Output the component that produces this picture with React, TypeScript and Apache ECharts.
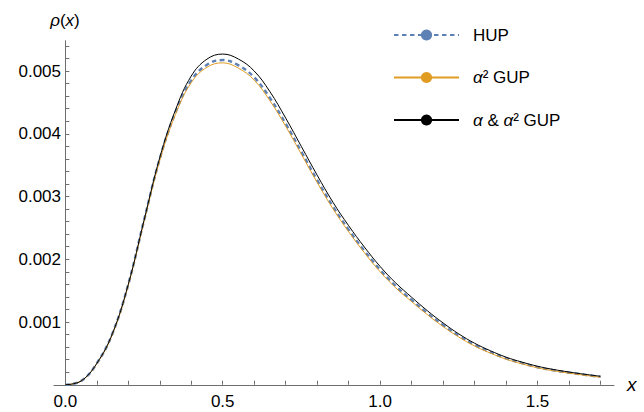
import React, { useEffect, useRef, useState } from "react";
import * as echarts from "echarts";

// x positions of sampled points
const xs = [
  0, 0.05, 0.1, 0.15, 0.2, 0.25, 0.3, 0.35, 0.4, 0.45, 0.5, 0.55, 0.6, 0.65, 0.7,
  0.75, 0.8, 0.85, 0.9, 0.95, 1.0, 1.05, 1.1, 1.15, 1.2, 1.25, 1.3, 1.35, 1.4,
  1.45, 1.5, 1.55, 1.6, 1.65, 1.7,
];
// values in units of 10^-3
const hup = [
  0, 0.06, 0.34, 0.82, 1.6, 2.62, 3.6, 4.34, 4.85, 5.1, 5.175, 5.09, 4.9, 4.57,
  4.16, 3.71, 3.26, 2.84, 2.47, 2.135, 1.83, 1.57, 1.35, 1.14, 0.95, 0.78, 0.635,
  0.52, 0.42, 0.345, 0.28, 0.232, 0.193, 0.158, 0.127,
];
const alpha2Gup = [
  0, 0.06, 0.335, 0.81, 1.585, 2.6, 3.575, 4.31, 4.815, 5.06, 5.13, 5.045, 4.855,
  4.525, 4.12, 3.672, 3.224, 2.806, 2.438, 2.105, 1.8, 1.543, 1.325, 1.117, 0.928,
  0.76, 0.618, 0.505, 0.408, 0.334, 0.27, 0.223, 0.185, 0.151, 0.119,
];
const alphaAlpha2Gup = [
  0, 0.06, 0.34, 0.82, 1.6, 2.62, 3.62, 4.38, 4.92, 5.19, 5.27, 5.19, 5.0, 4.67,
  4.25, 3.795, 3.34, 2.91, 2.535, 2.195, 1.885, 1.62, 1.395, 1.18, 0.985, 0.81,
  0.662, 0.543, 0.44, 0.362, 0.295, 0.244, 0.203, 0.167, 0.135,
];
const UNIT = 0.001;
const seriesNames = ["HUP", "α² GUP", "α & α² GUP"];

const xTicks = [0, 0.1, 0.2, 0.3, 0.4, 0.5, 0.6, 0.7, 0.8, 0.9, 1.0, 1.1, 1.2, 1.3, 1.4, 1.5, 1.6, 1.7];
const xLabels = [0, 0.5, 1.0, 1.5];
const yTicks = [
  0.0002, 0.0004, 0.0006, 0.0008, 0.001, 0.0012, 0.0014, 0.0016, 0.0018, 0.002,
  0.0022, 0.0024, 0.0026, 0.0028, 0.003, 0.0032, 0.0034, 0.0036, 0.0038, 0.004,
  0.0042, 0.0044, 0.0046, 0.0048, 0.005, 0.0052, 0.0054,
];
const yLabels = [0.001, 0.002, 0.003, 0.004, 0.005];

const X_MIN = -0.036;
const X_MAX = 1.743;
const Y_MIN = 0;
const Y_MAX = 0.005483;

const FONT = "'Liberation Sans', Arial, sans-serif";
const AXIS_COLOR = "#6e6e6e";
const C_HUP = "#5E81B5";
const C_A2 = "#E19C24";
const C_AA2 = "#000000";

const toPairs = (vals: number[]) => xs.map((x, i) => [x, vals[i] * UNIT]);
const italicRich = { i: { fontStyle: "italic", fontSize: 17, fontFamily: FONT, color: "#000" } };

export default function App() {
  const ref = useRef<HTMLDivElement>(null);
  const [msg, setMsg] = useState("");
  useEffect(() => {
    const logs: string[] = [];
    const ow = console.warn, oe = console.error;
    console.warn = (...a: any[]) => { logs.push("W:" + a.join(" ").slice(0, 160)); };
    console.error = (...a: any[]) => { logs.push("E:" + a.join(" ").slice(0, 160)); };
    const chart = echarts.init(ref.current!, null, { renderer: "svg" });
    const ls = () => ({ color: AXIS_COLOR, width: 1 });
    const option: any = {
      animation: false,
      title: [
        {
          text: "{i|ρ}({i|x})",
          left: 65,
          top: 12,
          textAlign: "center",
          padding: 0,
          textStyle: { fontSize: 17, fontFamily: FONT, color: "#000", fontWeight: "normal", rich: italicRich },
        },
        {
          text: "{i|x}",
          left: 627,
          top: 375,
          padding: 0,
          textStyle: {
            fontSize: 19,
            fontFamily: FONT,
            color: "#000",
            fontWeight: "normal",
            rich: { i: { fontStyle: "italic", fontSize: 19, fontFamily: FONT, color: "#000" } },
          },
        },
      ],
      legend: {
        orient: "vertical",
        left: 393,
        top: 25,
        padding: 0,
        itemWidth: 65,
        itemHeight: 14,
        itemGap: 22.5,
        selectedMode: false,
        data: seriesNames,
        formatter: (name: string) => name.replace(/α/g, "{i|α}"),
        textStyle: { fontSize: 17, fontFamily: FONT, color: "#000", padding: [0, 0, 0, 9], lineHeight: 20, rich: italicRich },
      },
      grid: { left: 54, right: 30, top: 40.7, bottom: 27.25 },
      xAxis: {
        type: "value",
        min: X_MIN,
        max: X_MAX,
        axisLine: { show: true, onZero: false, lineStyle: ls() },
        splitLine: { show: false },
        axisTick: { show: true, inside: true, length: 4, customValues: xTicks, lineStyle: ls() },
        axisLabel: {
          customValues: xLabels,
          formatter: (v: number) => v.toFixed(1),
          fontSize: 17,
          fontFamily: FONT,
          color: "#000",
        },
      },
      yAxis: {
        type: "value",
        min: Y_MIN,
        max: Y_MAX,
        axisLine: { show: true, onZero: true, lineStyle: ls() },
        splitLine: { show: false },
        axisTick: { show: true, inside: true, length: 4, customValues: yTicks, lineStyle: ls() },
        axisLabel: {
          customValues: yLabels,
          formatter: (v: number) => v.toFixed(3),
          fontSize: 17,
          fontFamily: FONT,
          color: "#000",
          margin: -7,
        },
      },
      series: [
        {
          name: seriesNames[0],
          type: "line",
          data: toPairs(hup),
          symbol: "none",
          smooth: 0.4,
          lineStyle: { color: C_HUP, width: 2.5, type: [4.5, 3.5] },
          itemStyle: { color: C_HUP },
        },
        {
          name: seriesNames[1],
          type: "line",
          data: toPairs(alpha2Gup),
          symbol: "none",
          smooth: 0.4,
          lineStyle: { color: C_A2, width: 1 },
          itemStyle: { color: C_A2 },
        },
        {
          name: seriesNames[2],
          type: "line",
          data: toPairs(alphaAlpha2Gup),
          symbol: "none",
          smooth: 0.4,
          lineStyle: { color: C_AA2, width: 1 },
          itemStyle: { color: C_AA2 },
        },
      ],
    };
    try {
      chart.setOption(option);
    } catch (e: any) {
      logs.push("X:" + String(e && e.stack ? e.stack : e).slice(0, 400));
    }
    console.warn = ow;
    console.error = oe;
    const t = setTimeout(() => {
      const svg = ref.current ? ref.current.querySelector("svg") : null;
      const paths = svg ? Array.from(svg.querySelectorAll("path")) : [];
      const axisPaths = paths.filter((p) => (p.getAttribute("stroke") || "").toLowerCase() === AXIS_COLOR);
      if (axisPaths.length < 3) {
        setMsg(logs.join(" || ") + " ## n=" + paths.length + " axis=" + axisPaths.length + " ## " +
          paths.slice(0, 10).map((p) => (p.getAttribute("d") || "").slice(0, 30) + "|" + p.getAttribute("stroke")).join(" ; "));
      }
    }, 60);
    return () => {
      clearTimeout(t);
      chart.dispose();
    };
  }, []);
  return (
    <div style={{ position: "fixed", left: 0, top: 0, width: 644, height: 412, background: "#fff" }}>
      <div ref={ref} style={{ position: "absolute", left: 0, top: 0, width: 644, height: 412 }} />
      {msg ? (
        <div style={{ position: "absolute", left: 150, top: 150, width: 480, fontSize: 9, fontFamily: "DejaVu Sans", background: "rgba(255,255,200,0.9)", wordBreak: "break-all" }}>{msg}</div>
      ) : null}
    </div>
  );
}
